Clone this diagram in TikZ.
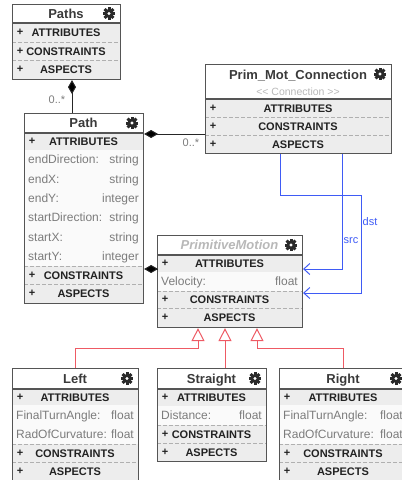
\documentclass[tikz,border=0pt]{standalone}
\usepackage{fontspec}
\setmainfont{Liberation Sans}
\usetikzlibrary{arrows.meta,calc}

\definecolor{bordc}{HTML}{555555}
\definecolor{hdrc}{HTML}{EDEDED}
\definecolor{attrbg}{HTML}{FAFAFA}
\definecolor{txtc}{HTML}{222222}
\definecolor{titc}{HTML}{3A3A3A}
\definecolor{attrc}{HTML}{7C7C7C}
\definecolor{dashc}{HTML}{B0B0B0}
\definecolor{subc}{HTML}{B8B8B8}
\definecolor{gearc}{HTML}{2A2A2A}
\definecolor{bluec}{HTML}{3F5BF5}
\definecolor{redc}{HTML}{EE5A64}

\tikzset{
  umlframe/.style={draw=bordc, line width=1.1pt, inner sep=0pt, anchor=north west},
  sepline/.style={draw=bordc, line width=1.1pt},
  dsepline/.style={draw=dashc, line width=0.7pt, dash pattern=on 3.5pt off 2.5pt},
  titletxt/.style={font=\fontsize{13}{15}\selectfont\bfseries, text=titc, inner sep=0pt, text height=9.4pt, text depth=0pt},
  ittxt/.style={font=\fontsize{13}{15}\selectfont\bfseries\itshape, text=subc, inner sep=0pt, text height=9.4pt, text depth=0pt},
  subtxt/.style={font=\fontsize{10.5}{12}\selectfont, text=subc, inner sep=0pt, text height=7.6pt, text depth=0pt},
  hdrtxt/.style={font=\fontsize{11}{13}\selectfont\bfseries, text=txtc, inner sep=0pt, text height=8pt, text depth=0pt},
  plustxt/.style={font=\fontsize{11}{13}\selectfont\bfseries, text=txtc, inner sep=0pt},
  attrtxt/.style={font=\fontsize{12}{14}\selectfont, text=attrc, inner sep=0pt, text height=8.6pt, text depth=0pt},
  multtxt/.style={font=\fontsize{11}{13}\selectfont, text=attrc, inner sep=0pt},
  bluetxt/.style={font=\fontsize{11}{13}\selectfont, text=bluec, inner sep=0pt},
  comp/.style={draw=black!85, line width=1pt, {Diamond[length=14pt,width=8pt,fill=black]}-},
  inh/.style={draw=redc, line width=1pt, -{Triangle[open,length=13pt,width=13pt,fill=white]}},
  assoc/.style={draw=bluec, line width=1pt, -{Straight Barb[length=6pt,width=11pt]}}
}

% gear icon: name, x, y
\newcommand\gearicon[3]{%
  \coordinate (#1) at (#2,#3);
  \begin{scope}[shift={(#1)}]
    \foreach \ga in {0,45,...,315}{\fill[gearc, rotate=\ga] (-1.5,3) rectangle (1.5,6.2);}
    \fill[gearc, even odd rule] (0,0) circle (4.5) (0,0) circle (1.9);
  \end{scope}
}
% name, x1, x2, y1, y2, text
\newcommand\titlerow[6]{%
  \node[titletxt] (#1-t) at ({(#2+#3)/2},{(#4+#5)/2}) {#6};
  \gearicon{#1-g}{{#3-11}}{{(#4+#5)/2}}
  \draw[sepline] (#2,#5) -- (#3,#5);
}
% name, x1, x2, y1, y2, label
\newcommand\hdrrow[6]{%
  \fill[hdrc] (#2,#4) rectangle (#3,#5);
  \node[plustxt] (#1-p) at ({#2+8},{(#4+#5)/2}) {+};
  \node[hdrtxt] (#1-l) at ({(#2+#3)/2},{(#4+#5)/2}) {#6};
}
% name, x1, x2, y1, y2, attribute, type
\newcommand\attrrow[7]{%
  \fill[attrbg] (#2,#4) rectangle (#3,#5);
  \node[attrtxt, anchor=west] (#1-n) at ({#2+4},{(#4+#5)/2}) {#6};
  \node[attrtxt, anchor=east] (#1-v) at ({#3-4},{(#4+#5)/2}) {#7};
}
\newcommand\dsep[3]{\draw[dsepline] (#1,#3) -- (#2,#3);}

\begin{document}
\begin{tikzpicture}[x=1pt, y=-1pt]
\useasboundingbox (0,0) rectangle (402,480);

% ---------- Paths ----------
\hdrrow{paths-a}{12}{120}{23}{42}{ATTRIBUTES}
\hdrrow{paths-c}{12}{120}{42}{60}{CONSTRAINTS}
\hdrrow{paths-s}{12}{120}{60}{79}{ASPECTS}
\dsep{12}{120}{42}\dsep{12}{120}{60}
\titlerow{paths}{12}{120}{4}{23}{Paths}
\node[umlframe, minimum width=108pt, minimum height=75pt] (paths) at (12,4) {};

% ---------- Path ----------
\hdrrow{path-a}{24}{143}{133}{150}{ATTRIBUTES}
\attrrow{path-1}{24}{143}{150}{169.3}{endDirection:}{string}
\attrrow{path-2}{24}{143}{169.3}{188.7}{endX:}{string}
\attrrow{path-3}{24}{143}{188.7}{208}{endY:}{integer}
\attrrow{path-4}{24}{143}{208}{227.3}{startDirection:}{string}
\attrrow{path-5}{24}{143}{227.3}{246.7}{startX:}{string}
\attrrow{path-6}{24}{143}{246.7}{266}{startY:}{integer}
\hdrrow{path-c}{24}{143}{266}{284}{CONSTRAINTS}
\hdrrow{path-s}{24}{143}{284}{303}{ASPECTS}
\dsep{24}{143}{266}\dsep{24}{143}{284}
\titlerow{path}{24}{143}{113}{133}{Path}
\node[umlframe, minimum width=119pt, minimum height=190pt] (path) at (24,113) {};

% ---------- Prim_Mot_Connection ----------
\hdrrow{pmc-a}{205}{391}{99}{117}{ATTRIBUTES}
\hdrrow{pmc-c}{205}{391}{117}{135}{CONSTRAINTS}
\hdrrow{pmc-s}{205}{391}{135}{153}{ASPECTS}
\dsep{205}{391}{117}\dsep{205}{391}{135}
\node[titletxt] (pmc-t) at (298,75) {Prim\_Mot\_Connection};
\node[subtxt] (pmc-st) at (298,92) {{<}{<} Connection {>}{>}};
\gearicon{pmc-g}{380}{74}
\draw[sepline] (205,99) -- (391,99);
\node[umlframe, minimum width=186pt, minimum height=89pt] (pmc) at (205,64) {};

% ---------- PrimitiveMotion ----------
\hdrrow{pm-a}{157}{302}{255}{272}{ATTRIBUTES}
\attrrow{pm-1}{157}{302}{272}{291}{Velocity:}{float}
\hdrrow{pm-c}{157}{302}{291}{308}{CONSTRAINTS}
\hdrrow{pm-s}{157}{302}{308}{327}{ASPECTS}
\dsep{157}{302}{291}\dsep{157}{302}{308}
\node[ittxt] (pm-t) at (229.5,245) {PrimitiveMotion};
\gearicon{pm-g}{291}{245}
\draw[sepline] (157,255) -- (302,255);
\node[umlframe, minimum width=145pt, minimum height=92pt] (pm) at (157,235) {};

% ---------- Left ----------
\hdrrow{left-a}{12}{138}{389}{405}{ATTRIBUTES}
\attrrow{left-1}{12}{138}{405}{424.5}{FinalTurnAngle:}{float}
\attrrow{left-2}{12}{138}{424.5}{444}{RadOfCurvature:}{float}
\hdrrow{left-c}{12}{138}{444}{462}{CONSTRAINTS}
\hdrrow{left-s}{12}{138}{462}{480}{ASPECTS}
\dsep{12}{138}{444}\dsep{12}{138}{462}
\titlerow{left}{12}{138}{368}{389}{Left}
\node[umlframe, minimum width=126pt, minimum height=114pt] (left) at (12,368) {};

% ---------- Straight ----------
\hdrrow{str-a}{157}{266}{389}{406}{ATTRIBUTES}
\attrrow{str-1}{157}{266}{406}{425}{Distance:}{float}
\hdrrow{str-c}{157}{266}{425}{443}{CONSTRAINTS}
\hdrrow{str-s}{157}{266}{443}{461}{ASPECTS}
\dsep{157}{266}{425}\dsep{157}{266}{443}
\titlerow{str}{157}{266}{368}{389}{Straight}
\node[umlframe, minimum width=109pt, minimum height=93pt] (straight) at (157,368) {};

% ---------- Right ----------
\hdrrow{right-a}{279}{407}{389}{405}{ATTRIBUTES}
\attrrow{right-1}{279}{407}{405}{424.5}{FinalTurnAngle:}{float}
\attrrow{right-2}{279}{407}{424.5}{444}{RadOfCurvature:}{float}
\hdrrow{right-c}{279}{407}{444}{462}{CONSTRAINTS}
\hdrrow{right-s}{279}{407}{462}{480}{ASPECTS}
\dsep{279}{407}{444}\dsep{279}{407}{462}
\titlerow{right}{279}{407}{368}{389}{Right}
\node[umlframe, minimum width=128pt, minimum height=114pt] (right) at (279,368) {};

% ---------- compositions ----------
\coordinate (a1) at ($(paths.south west)+(60,0)$);
\draw[comp] (a1) -- (a1 |- path.north);
\node[multtxt] (m1) at (57,100) {0..*};

\coordinate (a2) at ($(path.north east)+(0,21)$);
\draw[comp] (a2) -- (a2 -| pmc.west);
\node[multtxt] (m2) at (191,143) {0..*};

\coordinate (a3) at ($(pm.north west)+(0,34)$);
\draw[comp] (a3 -| path.east) -- (a3);

% ---------- src / dst ----------
\coordinate (s1) at ($(pmc.south west)+(137,0)$);
\coordinate (s2) at ($(pm.north east)+(0,34)$);
\draw[assoc] (s1) -- (s1 |- s2) -- (s2);
\node[bluetxt] (srcl) at (351,241) {src};

\coordinate (d1) at ($(pmc.south west)+(75,0)$);
\coordinate (d2) at ($(pm.north east)+(0,58)$);
\draw[assoc] (d1) -- ++(0,41) -| ($(d2)+(58,0)$) -- (d2);
\node[bluetxt] (dstl) at (370,222) {dst};

% ---------- inheritance ----------
\coordinate (g1) at ($(pm.south west)+(41,0)$);
\coordinate (g2) at ($(pm.south west)+(68,0)$);
\coordinate (g3) at ($(pm.south west)+(100,0)$);
\draw[inh] (left.north) |- ($(g1)+(0,20)$) -- (g1);
\draw[inh] (g2 |- straight.north) -- (g2);
\draw[inh] (right.north) |- ($(g3)+(0,20)$) -- (g3);
\end{tikzpicture}
\end{document}
